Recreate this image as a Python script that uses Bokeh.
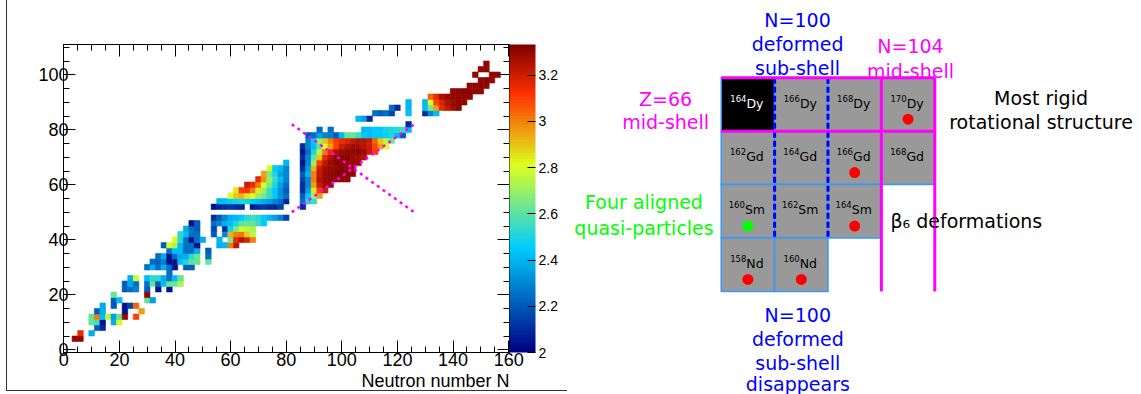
import math
from bokeh.plotting import figure
from bokeh.models import (ColumnDataSource, LinearColorMapper, ColorBar, FixedTicker,
                          SingleIntervalTicker, LinearAxis, Range1d, Label, Title,
                          CustomJSTickFormatter, InlineStyleSheet)
from bokeh.transform import transform
from bokeh.layouts import row, column
from bokeh.embed import file_html
from bokeh.resources import INLINE
from bokeh.core.properties import value

# ---------------- data: R(4/2) of even-even nuclei ----------------
# each row: (Z, first N, values at N, N+2, N+4, ...), None = no data
light_rows = [
    (4, 4, [3.30, 3.30]),
    (6, 6, [3.15, None, 2.38]),
    (8, 12, [2.20, 2.10]),
    (10, 10, [2.60, 2.55, 2.05, None, 2.38, 2.80]),
    (12, 10, [2.62, 3.00, 2.42, 2.75, 2.35, 2.62, 3.28, None, 3.10]),
    (14, 12, [2.20, 2.38, None, None, None, 2.05, None, None, 2.95]),
    (16, 14, [2.38, None, 2.20, None, 2.05, 2.15, 3.05]),
    (18, 18, [2.20, 2.42, None, None, None, None, 2.62, 2.35]),
    (20, 18, [2.62, None, None, None, None, None, 3.30]),
    (22, 22, [2.20, 2.25, 2.28, None, 2.20, None, 2.05, None, 2.05]),
    (24, 22, [2.20, 2.38, 2.25, None, 2.25, 2.62, 2.20, 2.42, 2.62, 2.62, 2.72]),
    (26, 24, [2.38, 2.78, None, 2.42, 2.52, 2.52, 2.38, 2.25, 2.42, 2.62]),
    (28, 38, [2.25]),
    (30, 30, [2.25, 2.38, 2.25, 2.38, 2.25, 2.05, None, 2.20, 2.20]),
    (32, 32, [2.25, 2.22, 2.28, 2.05, 2.05, 2.42, 2.50, 2.60, 2.62, None, 2.62]),
    (34, 34, [2.25, 2.38, 2.05, 2.25, 2.38, 2.38, 2.52, 2.62, None, 2.25]),
    (36, 38, [2.25, 2.42, 2.42, 2.25, 2.25, 2.38, None, 2.20]),
    (38, 36, [2.20, 2.80, 2.72, 2.42, 2.25, 2.25, 2.05]),
    (40, 40, [2.80, 2.52, 2.25, 2.05, 2.25, 2.38]),
    (42, 42, [2.52, 2.42, 2.25, 2.25]),
    (44, 44, [2.38, 2.25, 2.20]),
    (46, 46, [2.05, 2.20]),
]
mid_rows = [
    (38, 56, [2.38, 2.40, 3.00, 3.23]),
    (40, 56, [2.40, None, 2.65, 3.15, 3.24, 3.18, 3.00]),
    (42, 54, [2.20, None, 2.30, 2.92, 3.00, 3.02, 2.88, 2.75]),
    (44, 54, [2.15, None, 2.10, 2.48, 2.66, 2.78, 2.75, 2.72]),
    (46, 54, [2.25, 2.30, 2.38, 2.42, 2.50, 2.60, 2.62, 2.62, 2.55, 2.45]),
    (48, 54, [2.10, 2.20, 2.30, 2.38, 2.40, 2.45, 2.52, 2.55, 2.52, 2.45, 2.40, 2.35, 2.28, 2.15]),
    (52, 54, [2.05, 2.08, 2.10, 2.12, 2.10, 2.08, None, 2.06, 2.10, 2.12, 2.10, 2.08, 2.15]),
    (54, 56, [2.40, 2.42, 2.45, 2.47, 2.50, 2.48, 2.45, 2.42, 2.38, 2.35, 2.30, 2.25, 2.10]),
    (56, 60, [2.80, 2.90, 2.92, 2.85, 2.80, 2.70, 2.65, 2.55, 2.45, 2.32, 2.25]),
    (58, 62, [2.85, 3.10, 3.12, 3.00, 2.85, 2.70, 2.55, 2.45, 2.32, 2.20]),
    (60, 66, [3.20, 3.15, 3.00, 2.82, 2.65, 2.50, 2.35, 2.25]),
    (62, 70, [3.15, 2.98, 2.70, 2.55, 2.42, 2.30]),
    (64, 72, [2.95, 2.65, 2.50, 2.35, 2.30]),
    (66, 74, [2.80, 2.45, 2.40, 2.30]),
    (68, 80, [2.40]),
]
rare_earth_rows = [
    (52, 86, [2.10]),
    (54, 86, [2.25, 2.50, 2.55]),
    (56, 86, [2.20, 2.45, 2.70, 2.95]),
    (58, 86, [2.10, 2.35, 2.85, 3.10, 3.20]),
    (60, 86, [2.10, 2.30, 2.95, 3.20, 3.27, 3.28]),
    (62, 86, [2.15, 2.30, 3.00, 3.25, 3.29, 3.30, 3.30, 3.30, 3.30]),
    (64, 86, [2.20, 2.40, 3.00, 3.22, 3.28, 3.30, 3.31, 3.32, 3.31, 3.30]),
    (66, 86, [2.10, 2.35, 2.93, 3.21, 3.27, 3.29, 3.30, 3.31, 3.30, 3.30]),
    (68, 86, [2.05, 2.30, 2.70, 3.10, 3.23, 3.28, 3.31, 3.31, 3.30, 3.29, 3.28]),
    (70, 86, [2.10, 2.30, 2.60, 2.90, 3.15, 3.25, 3.30, 3.31, 3.31, 3.29, 3.27, 3.25]),
    (72, 86, [2.05, 2.25, 2.50, 2.75, 3.00, 3.15, 3.25, 3.29, 3.30, 3.30, 3.31, 3.28, 3.20, 3.10]),
    (74, 86, [2.10, 2.30, 2.42, 2.60, 2.80, 2.95, 3.10, 3.20, 3.25, 3.27, 3.27, 3.25, 3.20, 3.08, 2.95, 2.80]),
    (76, 88, [2.30, 2.45, 2.70, 2.90, 3.00, 3.10, 3.15, 3.18, 3.22, 3.25, 3.25, 3.20, 3.05, 2.90, 2.75, 2.65]),
    (78, 88, [2.20, 2.25, 2.35, 2.30, 2.28, 2.20, 2.40, 2.60, 2.62, 2.55, 2.45, 2.42, 2.45, 2.45, 2.47, 2.50, 2.40, 2.20]),
    (80, 92, [2.25, None, 2.25, None, None, None, None, None, 2.40, 2.42, 2.45, 2.45, 2.48, 2.50, 2.52, 2.55, 2.42]),
    (82, 124, [2.10]),
    (84, 106, [2.40, 2.35, 2.10]),
    (86, 112, [2.25, 2.20, 2.25, 2.15, None, None, 2.42]),
    (88, 118, [2.25, 2.10, None, 2.40]),
    (90, 124, [2.40]),
]
actinide_rows = [
    (86, 130, [2.10, 2.30, 2.42]),
    (88, 130, [2.42, 2.65, 2.95, 3.15, 3.22, 3.27, 3.30]),
    (90, 130, [2.40, 2.80, 3.08, 3.18, 3.25, 3.28, 3.30, 3.30]),
    (92, 132, [3.05, 3.15, 3.26, 3.28, 3.30, 3.30, 3.30, 3.30]),
    (94, 140, [3.30, 3.30, 3.31, 3.31, 3.30, 3.30]),
    (96, 146, [3.30, 3.30, 3.31, 3.30]),
    (98, 150, [3.30, 3.31, 3.30]),
    (100, 148, [3.30, None, None, 3.30, 3.30]),
    (102, 150, [3.30, 3.30]),
    (104, 152, [3.30]),
]
# dotted guide lines (N, Z end points)
guide_N = [[82, 126], [82, 126]]
guide_Z = [[50, 82], [82, 50]]
r_ticks = [2.0, 2.2, 2.4, 2.6, 2.8, 3.0, 3.2]
r_low, r_high = 2.0, 3.333

# ---------------- data: schematic of the N~100 region ----------------
box_N = [98, 100, 102, 104, 98, 100, 102, 104, 98, 100, 102, 98, 100]
box_Z = [66, 66, 66, 66, 64, 64, 64, 64, 62, 62, 62, 60, 60]
box_A = [164, 166, 168, 170, 162, 164, 166, 168, 160, 162, 164, 158, 160]
box_el = ["Dy", "Dy", "Dy", "Dy", "Gd", "Gd", "Gd", "Gd", "Sm", "Sm", "Sm", "Nd", "Nd"]
red_dot = ["170Dy", "166Gd", "164Sm", "158Nd", "160Nd"]
green_dot = ["160Sm"]
black_box = ["164Dy"]
mag_seg_N = [[97, 105], [97, 105], [103, 103], [105, 105]]
mag_seg_Z = [[67, 67], [65, 65], [67, 59], [67, 59]]
blue_seg_N = [[99, 99], [101, 101]]
blue_seg_Z = [[67, 61], [67, 61]]
ann_text = ["N=100", "deformed", "sub-shell", "N=104", "mid-shell", "Z=66", "mid-shell",
            "Most rigid", "rotational structure", "Four aligned", "quasi-particles",
            "N=100", "deformed", "sub-shell", "disappears"]

# ---------------- palette (ROOT "pretty" rainbow) ----------------
st = [0.00, 0.34, 0.61, 0.84, 1.00]
rr = [0.00, 0.00, 0.87, 1.00, 0.51]
gg = [0.00, 0.81, 1.00, 0.20, 0.00]
bb = [0.51, 1.00, 0.12, 0.00, 0.00]


def interp(f, ys):
    for i in range(len(st) - 1):
        if f <= st[i + 1]:
            t = (f - st[i]) / (st[i + 1] - st[i])
            return ys[i] + t * (ys[i + 1] - ys[i])
    return ys[-1]


palette = ["#%02x%02x%02x" % tuple(int(round(255 * interp(i / 99, c))) for c in (rr, gg, bb))
           for i in range(100)]
mapper = LinearColorMapper(palette=palette, low=r_low, high=r_high)

cells = {}
for rows in (light_rows, mid_rows, rare_earth_rows, actinide_rows):
    for z, n0, vals in rows:
        for k, v in enumerate(vals):
            if v is not None:
                cells[(n0 + 2 * k, z)] = v
src = ColumnDataSource(dict(N=[k[0] for k in cells], Z=[k[1] for k in cells],
                            R=list(cells.values())))

# ---------------- left: heat map ----------------
FONT = "Liberation Sans"
left = figure(width=567, height=394, x_range=Range1d(-0.1, 160.3),
              y_range=Range1d(-1, 111), min_border_left=63, min_border_right=58,
              min_border_top=44, min_border_bottom=42, toolbar_location=None,
              output_backend="svg", x_axis_location=None, y_axis_location=None)
left.xgrid.visible = False
left.ygrid.visible = False
left.outline_line_color = None
left.background_fill_color = "white"
left.border_fill_color = "white"

xt = SingleIntervalTicker(interval=20, num_minor_ticks=4)
yt = SingleIntervalTicker(interval=20, num_minor_ticks=4)
blank = CustomJSTickFormatter(code="return ''")


def make_axis(ticker, labels, standoff):
    ax = LinearAxis(ticker=ticker)
    ax.axis_line_color = "black"
    ax.major_tick_in = 12
    ax.major_tick_out = 0
    ax.minor_tick_in = 6
    ax.minor_tick_out = 0
    ax.major_tick_line_color = "black"
    ax.minor_tick_line_color = "black"
    ax.major_label_text_font = FONT
    ax.major_label_text_font_size = "18px"
    ax.major_label_text_color = "black"
    ax.major_label_standoff = standoff
    if not labels:
        ax.formatter = blank
    return ax


left.add_layout(make_axis(xt, True, 0), "below")
left.add_layout(make_axis(yt, True, -5), "left")
left.add_layout(make_axis(xt, False, 0), "above")
left.add_layout(make_axis(yt, False, 3), "right")

left.add_layout(Title(text="Neutron number N", align="right", text_font=FONT,
                      text_font_size="18px", text_font_style="normal", text_color="black",
                      standoff=0, offset=0), "below")

left.rect(x="N", y="Z", width=2, height=2, source=src,
          fill_color=transform("R", mapper), line_color=transform("R", mapper), line_width=0.6)
left.multi_line(xs=guide_N, ys=guide_Z, line_color="#ff00ff", line_width=2.5,
                line_dash="3 4")

cb = ColorBar(color_mapper=mapper, width=26, padding=0, margin=0,
              ticker=FixedTicker(ticks=r_ticks),
              formatter=CustomJSTickFormatter(code="return String(Math.round(tick*10)/10)"),
              major_label_text_font=FONT, major_label_text_font_size="14px",
              major_label_text_color="black", label_standoff=3,
              major_tick_line_color="black", major_tick_in=8, major_tick_out=0,
              minor_tick_line_color=None, bar_line_color=None, border_line_color=None,
              background_fill_color=None)
left.add_layout(cb, "right")

left.add_layout(Label(x=172.5, y=114.6, text="R(4/2)", text_align="right",
                      text_baseline="alphabetic", text_font=FONT, text_font_size="18px",
                      text_color="black"))
left.add_layout(Label(x=-16.46, y=109.9, text="Proton number Z", angle=math.pi / 2,
                      text_align="right", text_baseline="middle", text_font=FONT,
                      text_font_size="18px", text_color="black"))
left.stylesheets = [InlineStyleSheet(css=(
    ":host{position:relative;}"
    ":host::after{content:'';position:absolute;left:6px;top:0;width:calc(100% - 6px);"
    "height:391px;box-sizing:border-box;border-left:1px solid #333;"
    "border-bottom:1px solid #333;pointer-events:none;}"))]

# ---------------- right: schematic (frame = whole panel) ----------------
PX = 26.7  # pixels per unit (layout helper)
right = figure(width=574, height=394, x_range=Range1d(91.244, 112.742),
               y_range=Range1d(55.139, 69.895), min_border=0, toolbar_location=None,
               output_backend="svg", x_axis_location=None, y_axis_location=None)
right.xgrid.visible = False
right.ygrid.visible = False
right.outline_line_color = None
right.background_fill_color = "white"
right.border_fill_color = "white"

names = ["%d%s" % (a, e) for a, e in zip(box_A, box_el)]
fills = ["black" if n in black_box else "#999999" for n in names]
txtcol = ["white" if n in black_box else "black" for n in names]
right.rect(x=box_N, y=box_Z, width=2, height=2, fill_color=fills, line_color="#3399ff",
           line_width=1.5)
right.multi_line(xs=blue_seg_N, ys=blue_seg_Z, line_color="#0000ff", line_width=3,
                 line_dash="6 3")
right.multi_line(xs=mag_seg_N, ys=mag_seg_Z, line_color="#ff00ff", line_width=3)

el_em = {"Dy": 1.362, "Gd": 1.41, "Sm": 1.609, "Nd": 1.383}
EL_FS, SUP_FS = 12.5, 8.5
split_x, el_y, sup_y = [], [], []
for n, z, a, e in zip(box_N, box_Z, box_A, box_el):
    sup_w = len(str(a)) * 0.636 * SUP_FS
    el_w = el_em[e] * EL_FS
    split_x.append(n + ((sup_w - el_w) / 2 - 1) / PX)
    el_y.append(z + 0.05)
    sup_y.append(z + 0.05 + 5 / PX)
right.text(x=split_x, y=el_y, text=box_el, text_align="left", text_baseline="alphabetic",
           text_font=value("DejaVu Sans"), text_font_size="%spx" % EL_FS, text_color=txtcol)
right.text(x=split_x, y=sup_y, text=[str(a) for a in box_A], text_align="right",
           text_baseline="alphabetic", text_font=value("DejaVu Sans"),
           text_font_size="%spx" % SUP_FS, text_color=txtcol)

dx, dy, dc = [], [], []
for n, z, name in zip(box_N, box_Z, names):
    if name in red_dot or name in green_dot:
        dx.append(n)
        dy.append(z - 0.55)
        dc.append("#ff0000" if name in red_dot else "#00ff00")
right.scatter(x=dx, y=dy, marker="circle", size=11, fill_color=dc, line_color=None)

BLUE, MAG, GREEN = "#0000ff", "#ff00ff", "#00ff00"
ann_x = [99.86] * 3 + [104.09] * 2 + [94.92] * 2 + [108.98] * 2 + [94.11] * 2 + [99.87] * 4
ann_y = [69.17, 68.25, 67.35, 68.18, 67.27, 66.21, 65.34, 66.24, 65.33, 62.35, 61.36,
         58.13, 57.22, 56.31, 55.52]
ann_c = [BLUE] * 3 + [MAG] * 4 + ["black"] * 2 + [GREEN] * 2 + [BLUE] * 4
right.text(x=ann_x, y=ann_y, text=ann_text, text_align="center", text_baseline="alphabetic",
           text_font=value("DejaVu Sans"), text_font_size="19px", text_color=ann_c)
right.text(x=[103.34], y=[61.62], text=["β₆ deformations"], text_align="left",
           text_baseline="alphabetic", text_font=value("DejaVu Sans"), text_font_size="19px",
           text_color="black")

layout = row(left, column(right))
open("out.html", "w").write(file_html(layout, INLINE))
